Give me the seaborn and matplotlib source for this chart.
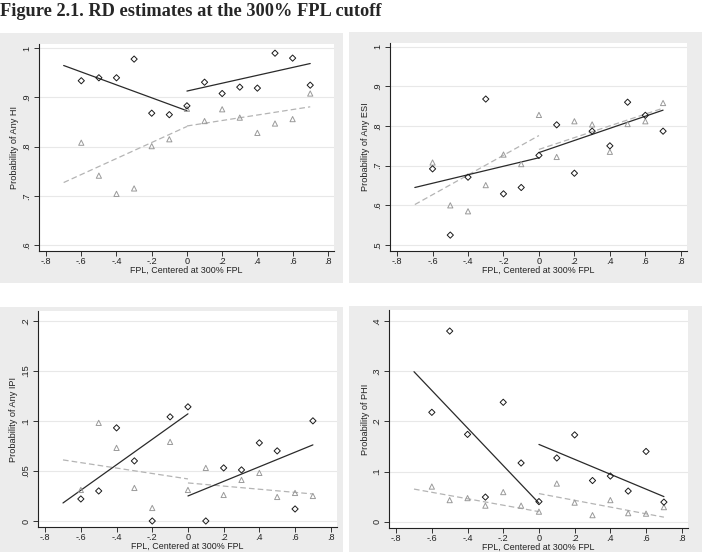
import numpy as np
import pandas as pd
import matplotlib
matplotlib.use("Agg")
import matplotlib.pyplot as plt
import seaborn as sns
from matplotlib.patches import Rectangle

# FPL bins (centered at 300% FPL)
x_bins = [-0.6, -0.5, -0.4, -0.3, -0.2, -0.1, 0.0, 0.1, 0.2, 0.3, 0.4, 0.5, 0.6, 0.7]
x_ticks = [-0.8, -0.6, -0.4, -0.2, 0.0, 0.2, 0.4, 0.6, 0.8]
x_ticklabels = ["-.8", "-.6", "-.4", "-.2", "0", ".2", ".4", ".6", ".8"]

# fitted lines: left side from -.7 to 0, right side from 0 to .7
fit_left_x = [-0.7, 0.0]
fit_right_x = [0.0, 0.7]

# Any HI
hi_diamond = [0.934, 0.940, 0.940, 0.978, 0.868, 0.865, 0.883, 0.931, 0.908, 0.921, 0.919, 0.990, 0.980, 0.925]
hi_triangle = [0.808, 0.741, 0.704, 0.715, 0.801, 0.815, 0.877, 0.852, 0.876, 0.859, 0.828, 0.847, 0.856, 0.908]
hi_fit_solid = [0.965, 0.873, 0.913, 0.969]
hi_fit_dash = [0.727, 0.841, 0.842, 0.881]
hi_yticks = [0.6, 0.7, 0.8, 0.9, 1.0]
hi_yticklabels = [".6", ".7", ".8", ".9", "1"]

# Any ESI
esi_diamond = [0.692, 0.525, 0.671, 0.868, 0.629, 0.645, 0.726, 0.803, 0.681, 0.787, 0.750, 0.860, 0.827, 0.787]
esi_triangle = [0.708, 0.600, 0.585, 0.651, 0.728, 0.704, 0.828, 0.722, 0.812, 0.804, 0.735, 0.805, 0.812, 0.858]
esi_fit_solid = [0.645, 0.720, 0.733, 0.840]
esi_fit_dash = [0.602, 0.776, 0.741, 0.845]
esi_yticks = [0.5, 0.6, 0.7, 0.8, 0.9, 1.0]
esi_yticklabels = [".5", ".6", ".7", ".8", ".9", "1"]

# Any IPI
ipi_diamond = [0.022, 0.030, 0.093, 0.060, 0.000, 0.104, 0.114, 0.000, 0.053, 0.051, 0.078, 0.070, 0.012, 0.100]
ipi_triangle = [0.031, 0.098, 0.073, 0.033, 0.013, 0.079, 0.031, 0.053, 0.026, 0.041, 0.048, 0.024, 0.028, 0.025]
ipi_fit_solid = [0.018, 0.107, 0.025, 0.076]
ipi_fit_dash = [0.061, 0.042, 0.038, 0.027]
ipi_yticks = [0.0, 0.05, 0.1, 0.15, 0.2]
ipi_yticklabels = ["0", ".05", ".1", ".15", ".2"]

# PHI
phi_diamond = [0.218, 0.380, 0.174, 0.049, 0.238, 0.117, 0.040, 0.127, 0.173, 0.082, 0.091, 0.061, 0.140, 0.039]
phi_triangle = [0.070, 0.043, 0.047, 0.032, 0.059, 0.032, 0.020, 0.076, 0.038, 0.013, 0.043, 0.017, 0.016, 0.029]
phi_fit_solid = [0.299, 0.037, 0.154, 0.050]
phi_fit_dash = [0.065, 0.020, 0.056, 0.009]
phi_yticks = [0.0, 0.1, 0.2, 0.3, 0.4]
phi_yticklabels = ["0", ".1", ".2", ".3", ".4"]

sns.set_theme(style="white")
plt.rcParams['font.family'] = ['Liberation Sans', 'DejaVu Sans']

W, H = 702, 552
fig = plt.figure(figsize=(W / 100, H / 100), dpi=100)
fig.patch.set_facecolor("white")

def px_axes(left, top, right, bottom):
    return [left / W, 1 - bottom / H, (right - left) / W, (bottom - top) / H]

# gray graph regions behind each panel
for (l, t, r, b) in [(0, 33, 343, 283), (349, 32, 702, 283), (0, 307, 343, 552), (349, 306, 702, 552)]:
    fig.patches.append(Rectangle((l / W, 1 - b / H), (r - l) / W, (b - t) / H,
                                 transform=fig.transFigure, facecolor="#ececec",
                                 edgecolor="none", zorder=-5))

panels = [
    (px_axes(39, 44, 334, 251), hi_diamond, hi_triangle, hi_fit_solid, hi_fit_dash,
     hi_yticks, hi_yticklabels, (0.5878, 1.0087), "Probability of Any HI"),
    (px_axes(390, 43, 687, 251), esi_diamond, esi_triangle, esi_fit_solid, esi_fit_dash,
     esi_yticks, esi_yticklabels, (0.4849, 1.0093), "Probability of Any ESI"),
    (px_axes(38, 311, 337, 527), ipi_diamond, ipi_triangle, ipi_fit_solid, ipi_fit_dash,
     ipi_yticks, ipi_yticklabels, (-0.006, 0.2097), "Probability of Any IPI"),
    (px_axes(389, 310, 688, 528), phi_diamond, phi_triangle, phi_fit_solid, phi_fit_dash,
     phi_yticks, phi_yticklabels, (-0.0126, 0.422), "Probability of PHI"),
]

for rect, diam, tri, fsolid, fdash, yt, ytl, ylim, ylabel in panels:
    ax = fig.add_axes(rect)
    ax.set_facecolor("white")
    for yv in yt:
        ax.axhline(yv, color="#e8e8e8", lw=0.8, zorder=0)

    # fitted lines
    sns.lineplot(x=fit_left_x, y=fdash[:2], ax=ax, color="#b4b4b4", lw=0.9,
                 linestyle=(0, (4.5, 2.5)))
    sns.lineplot(x=fit_right_x, y=fdash[2:], ax=ax, color="#b4b4b4", lw=0.9,
                 linestyle=(0, (4.5, 2.5)))
    sns.lineplot(x=fit_left_x, y=fsolid[:2], ax=ax, color="#2a2a2a", lw=0.9)
    sns.lineplot(x=fit_right_x, y=fsolid[2:], ax=ax, color="#2a2a2a", lw=0.9)

    # binned means
    sns.scatterplot(x=x_bins, y=tri, ax=ax, marker="^", s=14, facecolor="none",
                    edgecolor="#9a9a9a", linewidth=0.7, zorder=3)
    sns.scatterplot(x=x_bins, y=diam, ax=ax, marker="D", s=10, facecolor="none",
                    edgecolor="#1a1a1a", linewidth=0.7, zorder=4)

    ax.set_xlim(-0.84, 0.835)
    ax.set_ylim(*ylim)
    ax.set_xticks(x_ticks)
    ax.set_xticklabels(x_ticklabels)
    ax.set_yticks(yt)
    ax.set_yticklabels(ytl, rotation=90, va="center")
    ax.tick_params(axis="both", direction="out", length=3.6, width=0.7,
                   color="#333333", labelsize=6.6, labelcolor="#222222")
    ax.tick_params(axis="x", pad=0.6)
    ax.tick_params(axis="y", pad=2)
    ax.tick_params(left=True, bottom=True)
    for side in ["top", "right"]:
        ax.spines[side].set_visible(False)
    for side in ["left", "bottom"]:
        ax.spines[side].set_color("#222222")
        ax.spines[side].set_linewidth(0.8)

    ax.set_xlabel("FPL, Centered at 300% FPL", fontsize=6.4, color="#222222")
    ax.xaxis.label.set_va("center")
    ax.xaxis.set_label_coords(0.5, -19 / (rect[3] * H))
    ax.set_ylabel(ylabel, fontsize=6.6, color="#222222")
    ax.yaxis.label.set_va("center")
    ax.yaxis.set_label_coords(-24 / (rect[2] * W), 0.5)

fig.text(0.0, 1 - 12 / H, "Figure 2.1. RD estimates at the 300% FPL cutoff",
         family=["Liberation Serif", "DejaVu Serif"], fontweight="bold",
         fontsize=13.2, ha="left", va="center")

fig.savefig("out.png", dpi=100, facecolor="white")
